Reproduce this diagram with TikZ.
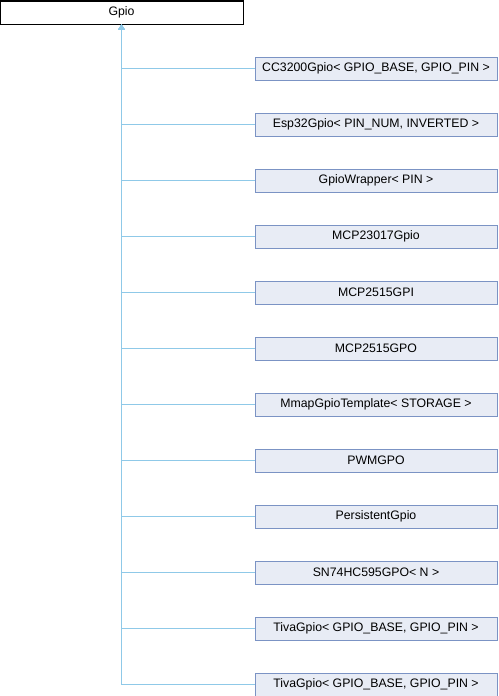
\documentclass[tikz,border=0pt]{standalone}
\usepackage{fontspec}
\setmainfont{Liberation Sans}
\usetikzlibrary{arrows.meta}
\definecolor{boxfill}{HTML}{E8ECF5}
\definecolor{boxedge}{HTML}{7B93C4}
\definecolor{connc}{HTML}{8FC9E8}
\tikzset{
  base/.style={draw=black, fill=white, line width=1pt, minimum width=243pt, minimum height=23pt, inner sep=0pt, font=\fontsize{12.3}{14}\selectfont},
  child/.style={draw=boxedge, fill=boxfill, line width=1pt, minimum width=242pt, minimum height=23pt, inner sep=0pt, font=\fontsize{12.3}{14}\selectfont},
  conn/.style={draw=connc, line width=1pt, -{Triangle[length=5pt,width=6pt,fill=connc]}}
}
\begin{document}
\begin{tikzpicture}[x=1pt,y=-1pt]
\useasboundingbox (0,0) rectangle (498,696);
\node[base] (gpio) at (121.5,12.5) {Gpio};
\foreach \i/\t in {0/{CC3200Gpio< GPIO\_BASE, GPIO\_PIN >},
                   1/{Esp32Gpio< PIN\_NUM, INVERTED >},
                   2/{GpioWrapper< PIN >},
                   3/{MCP23017Gpio},
                   4/{MCP2515GPI},
                   5/{MCP2515GPO},
                   6/{MmapGpioTemplate< STORAGE >},
                   7/{PWMGPO},
                   8/{PersistentGpio},
                   9/{SN74HC595GPO< N >},
                   10/{TivaGpio< GPIO\_BASE, GPIO\_PIN >},
                   11/{TivaGpio< GPIO\_BASE, GPIO\_PIN >}} {
  \node[child] (c\i) at (376,68.5+56*\i) {\t};
  \draw[conn] (c\i.west) -| (gpio.south);
}
\end{tikzpicture}
\end{document}
